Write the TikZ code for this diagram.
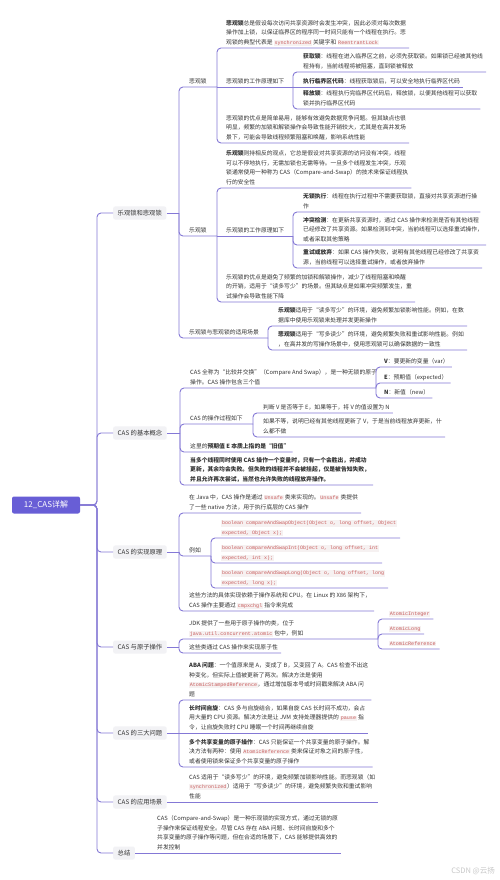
\documentclass[tikz,border=0pt]{standalone}
\usepackage{fontspec}
\setmainfont{Noto Sans CJK SC}
\newfontfamily\codefont{Liberation Mono}
\usetikzlibrary{calc}
\definecolor{txtc}{RGB}{51,51,51}
\definecolor{linec}{RGB}{132,120,214}
\definecolor{rootc}{RGB}{104,94,214}
\definecolor{lblbg}{RGB}{242,242,245}
\definecolor{codebg}{RGB}{246,241,241}
\definecolor{codefg}{RGB}{200,92,92}
\definecolor{wmc}{RGB}{200,200,200}
\newcommand\cd[1]{{\setlength{\fboxsep}{0.6pt}\colorbox{codebg}{\textcolor{codefg}{\codefont\fontsize{5.1}{6}\selectfont #1}}}}
\newcommand\cdl[1]{{\setlength{\fboxsep}{0.8pt}\colorbox{codebg}{\textcolor{codefg}{\codefont\fontsize{5}{6}\selectfont #1}}}}
\tikzset{
  txt/.style={anchor=south west, inner sep=0pt, align=left, text=txtc, font=\fontsize{5.8}{9.6}\selectfont, text depth=1pt},
  txtb/.style={txt, font=\fontsize{5.8}{9.6}\selectfont\bfseries},
  conn/.style={draw=linec, line width=0.9pt, rounded corners=4pt},
  lbl/.style={anchor=west, fill=lblbg, rounded corners=2pt, inner xsep=4.5pt, inner ysep=3.6pt, text=txtc, font=\fontsize{6.3}{7}\selectfont},
  rootbox/.style={fill=rootc, text=white, rounded corners=2pt, minimum width=68pt, minimum height=17pt, inner sep=2pt, font=\fontsize{8}{9}\selectfont}
}
% #1 style, #2 name, #3 parent point, #4 x, #5 underline y, #6 text
\newcommand\mmleaf[6][txt]{%
  \node[#1] (#2) at (#4,#5-2.5) {#6};
  \draw[conn] (#3) |- ($(#2.south east)+(3,2.5)$);}
% #1 name, #2 parent point, #3 x, #4 underline y, #5 spine x, #6 text
\newcommand\mmmid[6]{%
  \node[txt] (#1) at (#3,#4-2.5) {#6};
  \coordinate (#1-s) at (#5,#4);
  \draw[conn] (#2) |- (#1-s);}
\begin{document}
\begin{tikzpicture}[x=1pt,y=-1pt]
\useasboundingbox (0,0) rectangle (500,880);
\fill[white] (0,0) rectangle (500,880);

% root and level-0 spine
\node[rootbox] (root) at (46,505) {12\_CAS详解};
\coordinate (s0) at (97,505);
\node[lbl] (b1) at (113,213) {乐观锁和悲观锁};
\node[lbl] (b2) at (113,433) {CAS 的基本概念};
\node[lbl] (b3) at (113,552) {CAS 的实现原理};
\node[lbl] (b4) at (113,647) {CAS 与原子操作};
\node[lbl] (b5) at (113,733) {CAS 的三大问题};
\node[lbl] (b6) at (113,802) {CAS 的应用场景};
\node[lbl] (b7) at (113,853) {总结};
\foreach \b in {b1,b2,b3,b4,b5,b6,b7} \draw[conn] (root.east) -- (s0) |- (\b.west);

% ===== Branch 1 =====
\coordinate (s1) at (179,213);
\draw[conn] (b1.east) -- (s1);
\mmmid{bg}{s1}{189}{87}{217}{悲观锁}
\mmleaf{bgA}{bg-s}{226}{48}{\textbf{悲观锁}总是假设每次访问共享资源时会发生冲突，因此必须对每次数据\\操作加上锁，以保证临界区的程序同一时间只能有一个线程在执行。悲\\观锁的典型代表是 \cd{synchronized} 关键字和 \cd{ReentrantLock}}
\node[txt] (bgW) at (226,87-2.5) {悲观锁的工作原理如下};
\coordinate (bgW-s) at (293,87);
\draw[conn] (bg-s) -- (bgW-s);
\mmleaf{bgW1}{bgW-s}{303}{72}{\textbf{获取锁}：线程在进入临界区之前，必须先获取锁。如果锁已经被其他线\\程持有，当前线程将被阻塞，直到锁被释放}
\node[txt] (bgW2) at (303,87-2.5) {\textbf{执行临界区代码}：线程获取锁后，可以安全地执行临界区代码};
\draw[conn] (bgW-s) -- ($(bgW2.south east)+(3,2.5)$);
\mmleaf{bgW3}{bgW-s}{303}{109}{\textbf{释放锁}：线程执行完临界区代码后，释放锁，以便其他线程可以获取\\锁并执行临界区代码}
\mmleaf{bgC}{bg-s}{226}{143}{悲观锁的优点是简单易用，能够有效避免数据竞争问题。但其缺点也很\\明显，频繁的加锁和解锁操作会导致性能开销较大，尤其是在高并发场\\景下，可能会导致线程频繁阻塞和唤醒，影响系统性能}

\mmmid{og}{s1}{189}{236}{217}{乐观锁}
\mmleaf{ogA}{og-s}{226}{188}{\textbf{乐观锁}则持相反的观点，它总是假设对共享资源的访问没有冲突，线程\\可以不停地执行，无需加锁也无需等待。一旦多个线程发生冲突，乐观\\锁通常使用一种称为 CAS（Compare-and-Swap）的技术来保证线程执\\行的安全性}
\node[txt] (ogW) at (226,236-2.5) {乐观锁的工作原理如下};
\coordinate (ogW-s) at (293,236);
\draw[conn] (og-s) -- (ogW-s);
\mmleaf{ogW1}{ogW-s}{303}{212}{\textbf{无锁执行}：线程在执行过程中不需要获取锁，直接对共享资源进行操\\作}
\mmleaf{ogW2}{ogW-s}{303}{245}{\textbf{冲突检测}：在更新共享资源时，通过 CAS 操作来检测是否有其他线程\\已经修改了共享资源。如果检测到冲突，当前线程可以选择重试操作，\\或者采取其他策略}
\mmleaf{ogW3}{ogW-s}{303}{268}{\textbf{重试或放弃}：如果 CAS 操作失败，说明有其他线程已经修改了共享资\\源，当前线程可以选择重试操作，或者放弃操作}
\mmleaf{ogC}{og-s}{226}{302}{乐观锁的优点是避免了频繁的加锁和解锁操作，减少了线程阻塞和唤醒\\的开销，适用于“读多写少”的场景。但其缺点是如果冲突频繁发生，重\\试操作会导致性能下降}

\mmmid{sc}{s1}{189}{338}{268}{乐观锁与悲观锁的适用场景}
\mmleaf{sc1}{sc-s}{278}{326}{\textbf{乐观锁}适用于“读多写少”的环境，避免频繁加锁影响性能。例如，在数\\据库中使用乐观锁来处理并发更新操作}
\mmleaf{sc2}{sc-s}{278}{350}{\textbf{悲观锁}适用于“写多读少”的环境，避免频繁失败和重试影响性能。例如\\，在高并发的写操作场景中，使用悲观锁可以确保数据的一致性}

% ===== Branch 2 =====
\coordinate (s2) at (180,433);
\draw[conn] (b2.east) -- (s2);
\mmmid{c1}{s2}{190}{388}{376}{CAS 全称为“比较并交换”（Compare And Swap），是一种无锁的原子\\操作。CAS 操作包含三个值}
\mmleaf{c1V}{c1-s}{384}{367}{\textbf{V}：要更新的变量（var）}
\mmleaf{c1E}{c1-s}{384}{383}{\textbf{E}：预期值（expected）}
\mmleaf{c1N}{c1-s}{384}{398}{\textbf{N}：新值（new）}
\mmmid{c2}{s2}{190}{424}{253}{CAS 的操作过程如下}
\mmleaf{c2a}{c2-s}{263}{413}{判断 V 是否等于 E，如果等于，将 V 的值设置为 N}
\mmleaf{c2b}{c2-s}{263}{437}{如果不等，说明已经有其他线程更新了 V，于是当前线程放弃更新，什\\么都不做}
\mmleaf{c3}{s2}{190}{452}{这里的\textbf{预期值 E 本质上指的是“旧值”}}
\mmleaf[txtb]{c4}{s2}{190}{485}{当多个线程同时使用 CAS 操作一个变量时，只有一个会胜出，并成功\\更新，其余均会失败。但失败的线程并不会被挂起，仅是被告知失败，\\并且允许再次尝试，当然也允许失败的线程放弃操作。}

% ===== Branch 3 =====
\coordinate (s3) at (179,552);
\draw[conn] (b3.east) -- (s3);
\mmleaf{d1}{s3}{189}{513}{在 Java 中，CAS 操作是通过 \cd{Unsafe} 类来实现的。\cd{Unsafe} 类提供\\了一些 native 方法，用于执行底层的 CAS 操作}
\mmmid{d2}{s3}{189}{556}{211}{例如}
\mmleaf{d2a}{d2-s}{221}{538}{\cdl{boolean compareAndSwapObject(Object o, long offset, Object}\\\cdl{expected, Object x);}}
\mmleaf{d2b}{d2-s}{221}{563}{\cdl{boolean compareAndSwapInt(Object o, long offset, int}\\\cdl{expected, int x);}}
\mmleaf{d2c}{d2-s}{221}{588}{\cdl{boolean compareAndSwapLong(Object o, long offset, long}\\\cdl{expected, long x);}}
\mmleaf{d3}{s3}{189}{611}{这些方法的具体实现依赖于操作系统和 CPU。在 Linux 的 X86 架构下，\\CAS 操作主要通过 \cd{cmpxchgl} 指令来完成}

% ===== Branch 4 =====
\coordinate (s4) at (179,647);
\draw[conn] (b4.east) -- (s4);
\mmmid{e1}{s4}{189}{639}{378}{JDK 提供了一些用于原子操作的类，位于\\\cd{java.util.concurrent.atomic} 包中，例如}
\mmleaf{e1a}{e1-s}{389}{619}{\cd{AtomicInteger}}
\mmleaf{e1b}{e1-s}{389}{634}{\cd{AtomicLong}}
\mmleaf{e1c}{e1-s}{389}{649}{\cd{AtomicReference}}
\mmleaf{e2}{s4}{189}{653}{这些类通过 CAS 操作来实现原子性}

% ===== Branch 5 =====
\coordinate (s5) at (179,733);
\draw[conn] (b5.east) -- (s5);
\mmleaf{f1}{s5}{189}{700}{\textbf{ABA 问题}：一个值原来是 A，变成了 B，又变回了 A。CAS 检查不出这\\种变化，但实际上值被更新了两次。解决方法是使用\\\cd{AtomicStampedReference}，通过增加版本号或时间戳来解决 ABA 问\\题}
\node[txt] (f2) at (189,733-2.5) {\textbf{长时间自旋}：CAS 多与自旋结合，如果自旋 CAS 长时间不成功，会占\\用大量的 CPU 资源。解决方法是让 JVM 支持处理器提供的 \cd{pause} 指\\令，让自旋失败时 CPU 睡眠一个时间再继续自旋};
\draw[conn] (s5) -- ($(f2.south east)+(3,2.5)$);
\mmleaf{f3}{s5}{189}{767}{\textbf{多个共享变量的原子操作}：CAS 只能保证一个共享变量的原子操作。解\\决方法有两种：使用 \cd{AtomicReference} 类来保证对象之间的原子性，\\或者使用锁来保证多个共享变量的原子操作}

% ===== Branch 6 =====
\node[txt] (g1) at (189,802-2.5) {CAS 适用于“读多写少”的环境，避免频繁加锁影响性能。而悲观锁（如\\\cd{synchronized}）适用于“写多读少”的环境，避免频繁失败和重试影响\\性能};
\draw[conn] (b6.east) -- ($(g1.south east)+(3,2.5)$);

% ===== Branch 7 =====
\node[txt] (h1) at (157,853-2.5) {CAS（Compare-and-Swap）是一种乐观锁的实现方式，通过无锁的原\\子操作来保证线程安全。尽管 CAS 存在 ABA 问题、长时间自旋和多个\\共享变量的原子操作等问题，但在合适的场景下，CAS 能够提供高效的\\并发控制};
\draw[conn] (b7.east) -- ($(h1.south east)+(3,2.5)$);

% watermark
\node[text=wmc, font=\fontsize{7.5}{8}\selectfont, anchor=east, inner sep=0pt] (wm) at (495,871) {CSDN @云扬};
\end{tikzpicture}
\end{document}
